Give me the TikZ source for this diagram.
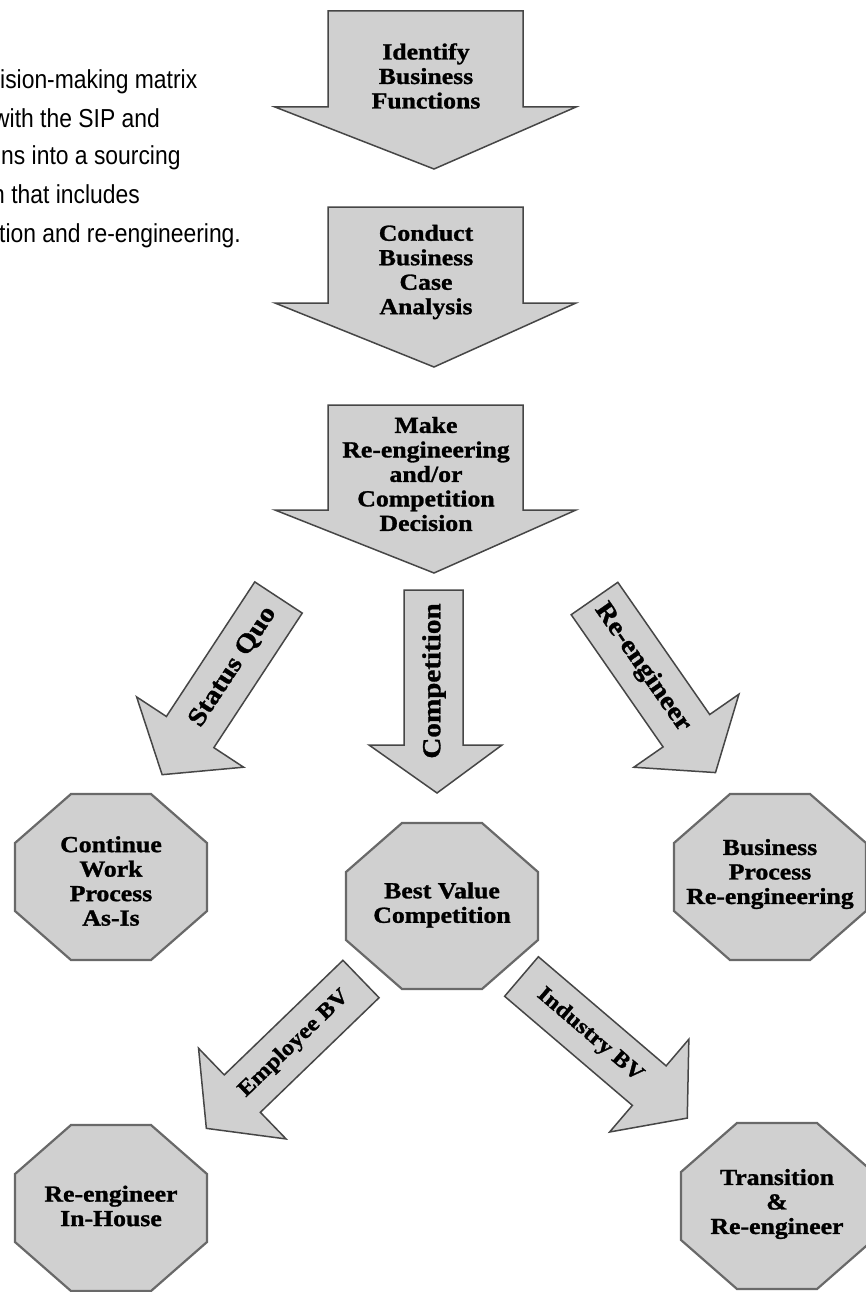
\documentclass[tikz,border=0pt]{standalone}
\usepackage{fontspec}
\newfontfamily\boxfont[FakeStretch=1.12,BoldFeatures={FakeBold=1.2}]{Liberation Serif}
\newfontfamily\notefont[FakeStretch=0.88]{Liberation Sans}
\definecolor{shapefill}{RGB}{208,208,208}
\definecolor{shapeline}{RGB}{70,70,70}
\definecolor{octline}{RGB}{105,105,105}
\newcommand\drawoct[2]{%
  \begin{scope}[shift={(#1,#2)}]
    \draw[octstyle] (-40,-83) -- (40,-83) -- (96,-34) -- (96,34) -- (40,83) -- (-40,83) -- (-96,34) -- (-96,-34) -- cycle;
  \end{scope}}
\begin{document}
\begin{tikzpicture}[x=1pt,y=-1pt,
  arrowshape/.style={fill=shapefill,draw=shapeline,line width=1.5pt,line join=miter},
  octstyle/.style={fill=shapefill,draw=octline,line width=2.2pt,line join=miter},
  boxtext/.style={font=\boxfont\bfseries\fontsize{23}{24.5}\selectfont,align=center,inner sep=0pt},
  armtext/.style={font=\boxfont\bfseries\fontsize{26}{26}\selectfont,inner sep=0pt},
  bvtext/.style={font=\boxfont\bfseries\fontsize{22}{22}\selectfont,inner sep=0pt},
  notetext/.style={font=\notefont\fontsize{26}{26}\selectfont,inner sep=0pt,anchor=base west}]
\fill[white] (0,0) rectangle (866,1292);
\useasboundingbox (0,0) rectangle (866,1292);

% left text (clipped at the left edge)
\node[notetext] (n1) at (0,89) {ision-making matrix};
\node[notetext] (n2) at (-7,128) {with the SIP and};
\node[notetext] (n3) at (1,165) {ns into a sourcing};
\node[notetext] (n4) at (-8,204) {n that includes};
\node[notetext] (n5) at (-1,242) {tion and re-engineering.};

% big vertical arrows
\draw[arrowshape] (328,11) -- (523,11) -- (523,107) -- (576,107) -- (434,169) -- (275,107) -- (328,107) -- cycle;
\node[boxtext] (a1) at (426,76) {Identify\\Business\\Functions};
\draw[arrowshape] (328,207) -- (523,207) -- (523,303) -- (576,303) -- (434,367) -- (275,303) -- (328,303) -- cycle;
\node[boxtext] (a2) at (426,272) {Conduct\\Business\\Case\\Analysis};
\draw[arrowshape] (328,405) -- (523,405) -- (523,510) -- (576,510) -- (434,573) -- (275,510) -- (328,510) -- cycle;
\node[boxtext] (a3) at (426,474) {Make\\Re-engineering\\and/or\\Competition\\Decision};

% Status Quo arrow
\begin{scope}[shift={(278.5,597.5)},rotate=-123.3]
  \draw[arrowshape] (0,-28.4) -- (161,-28.4) -- (161,-64) -- (212,0) -- (161,64) -- (161,28.4) -- (0,28.4) -- cycle;
  \node[armtext,rotate=56.7] (sq) at (83,0) {Status Quo};
\end{scope}
% Competition arrow
\draw[arrowshape] (404,590) -- (463,590) -- (463,745) -- (502,745) -- (437,793) -- (369,745) -- (404,745) -- cycle;
\node[armtext,rotate=90] (cp) at (434,681) {Competition};
% Re-engineer arrow
\begin{scope}[shift={(594.5,598.5)},rotate=-55.2]
  \draw[arrowshape] (0,-28.4) -- (161,-28.4) -- (161,-64) -- (212,0) -- (161,64) -- (161,28.4) -- (0,28.4) -- cycle;
  \node[armtext,rotate=-55.2] (re) at (84,0) {Re-engineer};
\end{scope}

% octagons
\drawoct{111}{877}
\node[boxtext] (o1) at (111,881) {Continue\\Work\\Process\\As-Is};
\drawoct{442}{906}
\node[boxtext] (o2) at (442,905) {Best Value\\Competition};
\drawoct{770}{877}
\node[boxtext] (o3) at (770,874) {Business\\Process\\Re-engineering};
\drawoct{111}{1208}
\node[boxtext] (o4) at (111,1206) {Re-engineer\\In-House};
\drawoct{777}{1206}
\node[boxtext] (o5) at (777,1204) {Transition\\\&\\Re-engineer};

% Employee BV arrow
\begin{scope}[shift={(361,979)},rotate=-136]
  \draw[arrowshape] (0,-26) -- (165,-26) -- (165,-63) -- (215,0) -- (165,63) -- (165,26) -- (0,26) -- cycle;
  \node[bvtext,rotate=44] (ebv) at (93,0) {Employee BV};
\end{scope}
% Industry BV arrow
\begin{scope}[shift={(521.5,976.5)},rotate=-40.5]
  \draw[arrowshape] (0,-26) -- (168,-26) -- (168,-61) -- (218,0) -- (168,61) -- (168,26) -- (0,26) -- cycle;
  \node[bvtext,rotate=-40.5] (ibv) at (90,0) {Industry BV};
\end{scope}
\end{tikzpicture}
\end{document}
